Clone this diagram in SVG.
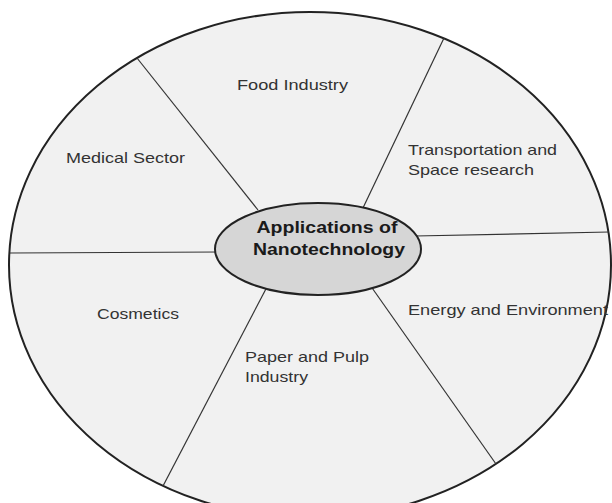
<svg xmlns="http://www.w3.org/2000/svg" width="612" height="503" viewBox="0 0 612 503">
  <style>
    .sector { fill: #f1f1f1; stroke: #222; stroke-width: 2; }
    .hub { fill: #d6d6d6; stroke: #222; stroke-width: 2; }
    .spoke { stroke: #333; stroke-width: 1.2; fill: none; }
    .label { font-family: "Liberation Sans", Arial, sans-serif; font-size: 15px; fill: #333; }
    .title { font-family: "Liberation Sans", Arial, sans-serif; font-size: 16px; font-weight: bold; fill: #1a1a1a; text-anchor: middle; }
  </style>
  <rect width="612" height="503" fill="#fff"/>

  <!-- outer ring of sectors; its lowest edge runs past the bottom of the page -->
  <g id="outer">
    <ellipse class="sector" cx="310" cy="265" rx="301" ry="253"/>
  </g>

  <g id="connectors">
    <line class="spoke" x1="258" y1="210" x2="137" y2="58"/>
    <line class="spoke" x1="362" y1="210" x2="444" y2="38"/>
    <line class="spoke" x1="415" y1="236" x2="609" y2="232"/>
    <line class="spoke" x1="370" y1="285" x2="496" y2="464"/>
    <line class="spoke" x1="268" y1="285" x2="163" y2="486"/>
    <line class="spoke" x1="10" y1="253" x2="220" y2="252"/>
  </g>

  <g id="hub">
    <ellipse class="hub" cx="318" cy="249" rx="103" ry="46"/>
    <text class="title" x="327" y="233" textLength="141" lengthAdjust="spacingAndGlyphs">Applications of</text>
    <text class="title" x="329" y="255" textLength="152" lengthAdjust="spacingAndGlyphs">Nanotechnology</text>
  </g>

  <g id="food">
    <text class="label" x="237" y="90" textLength="111" lengthAdjust="spacingAndGlyphs">Food Industry</text>
  </g>
  <g id="medical">
    <text class="label" x="66" y="163" textLength="119" lengthAdjust="spacingAndGlyphs">Medical Sector</text>
  </g>
  <g id="transport">
    <text class="label" x="408" y="155" textLength="149" lengthAdjust="spacingAndGlyphs">Transportation and</text>
    <text class="label" x="408" y="175" textLength="126" lengthAdjust="spacingAndGlyphs">Space research</text>
  </g>
  <g id="energy">
    <text class="label" x="408" y="315" textLength="200" lengthAdjust="spacingAndGlyphs">Energy and Environment</text>
  </g>
  <g id="cosmetics">
    <text class="label" x="97" y="319" textLength="82" lengthAdjust="spacingAndGlyphs">Cosmetics</text>
  </g>
  <g id="paper">
    <text class="label" x="245" y="362" textLength="124" lengthAdjust="spacingAndGlyphs">Paper and Pulp</text>
    <text class="label" x="245" y="382" textLength="63" lengthAdjust="spacingAndGlyphs">Industry</text>
  </g>
</svg>
